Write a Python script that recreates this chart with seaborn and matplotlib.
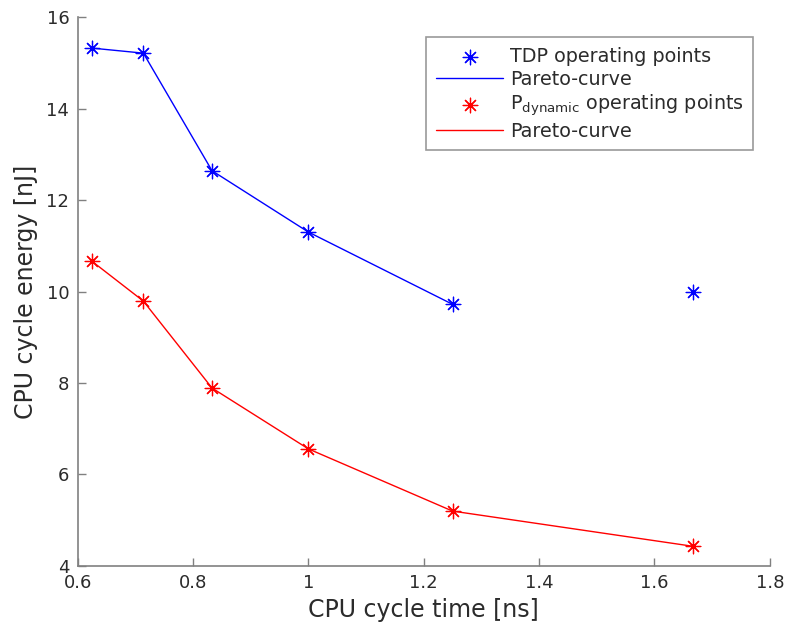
import matplotlib
matplotlib.use("Agg")
import matplotlib.pyplot as plt
import seaborn as sns
import pandas as pd

cycle_time = [0.625, 0.714, 0.833, 1.0, 1.25, 1.667]
tdp_energy = [15.32, 15.21, 12.64, 11.30, 9.72, 9.99]
dyn_energy = [10.66, 9.79, 7.89, 6.56, 5.20, 4.43]
tdp_pareto_n = 5  # points on the TDP Pareto curve
dyn_pareto_n = 6

sns.set_theme(style="white")
plt.rcParams['font.family'] = ['DejaVu Sans']
text_color = '#2b2b2b'

df_tdp = pd.DataFrame({'t': cycle_time, 'e': tdp_energy})
df_dyn = pd.DataFrame({'t': cycle_time, 'e': dyn_energy})

fig = plt.figure(figsize=(7.92, 6.3), dpi=100)
ax = fig.add_axes([0.098, 0.1016, 0.874, 0.8714])

star = (8, 2, 0)
sns.scatterplot(data=df_tdp, x='t', y='e', ax=ax, marker=star, s=110,
                color='#0000ff', linewidth=0.9, edgecolor='#0000ff',
                label='TDP operating points', zorder=3)
sns.lineplot(data=df_tdp.iloc[:tdp_pareto_n], x='t', y='e', ax=ax,
             color='#0000ff', linewidth=1.0, label='Pareto-curve', zorder=2)
sns.scatterplot(data=df_dyn, x='t', y='e', ax=ax, marker=star, s=110,
                color='#ff0000', linewidth=0.9, edgecolor='#ff0000',
                label=r'P$_{\mathregular{dynamic}}$ operating points', zorder=3)
sns.lineplot(data=df_dyn.iloc[:dyn_pareto_n], x='t', y='e', ax=ax,
             color='#ff0000', linewidth=1.0, label='Pareto-curve', zorder=2)

ax.set_xlim(0.6, 1.8)
ax.set_ylim(4, 16)
ax.set_xticks([0.6, 0.8, 1.0, 1.2, 1.4, 1.6, 1.8])
ax.set_xticklabels(['0.6', '0.8', '1', '1.2', '1.4', '1.6', '1.8'])
ax.set_yticks([4, 6, 8, 10, 12, 14, 16])
ax.set_yticklabels(['4', '6', '8', '10', '12', '14', '16'])

for side in ['top', 'right']:
    ax.spines[side].set_visible(False)
for side in ['left', 'bottom']:
    ax.spines[side].set_color('#808080')
    ax.spines[side].set_linewidth(1.2)

ax.tick_params(direction='in', length=6, width=1.0, color='#808080',
               labelsize=13, labelcolor=text_color, pad=6)
ax.tick_params(axis='x', which='both', bottom=True)
ax.tick_params(axis='y', which='both', left=True)

ax.set_xlabel('CPU cycle time [ns]', fontsize=17, color=text_color, labelpad=4)
ax.set_ylabel('CPU cycle energy [nJ]', fontsize=17, color=text_color, labelpad=6)

leg = ax.legend(loc='upper right', bbox_to_anchor=(0.976, 0.963), fontsize=13.8,
                frameon=True, fancybox=False, edgecolor='#808080',
                handlelength=3.5, labelspacing=0.2, borderpad=0.5,
                handletextpad=0.35, borderaxespad=0.0)
leg.get_frame().set_linewidth(1.2)
for t in leg.get_texts():
    t.set_color(text_color)

fig.savefig('out.png', dpi=100, facecolor='white')
